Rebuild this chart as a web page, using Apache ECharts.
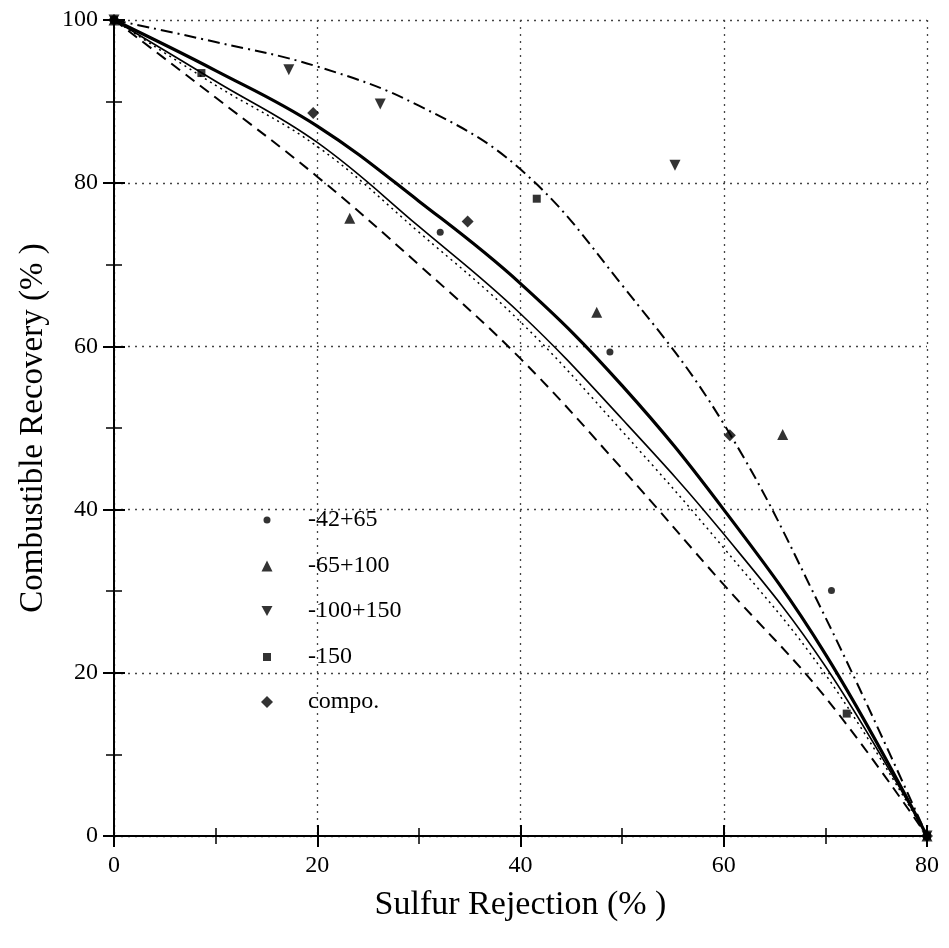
<!DOCTYPE html>
<html>
<head>
<meta charset="utf-8">
<script src="https://cdn.jsdelivr.net/npm/echarts@6/dist/echarts.min.js"></script>
<style>
  html, body { margin: 0; padding: 0; background: #fff; }
  #chart { width: 949px; height: 948px; }
</style>
</head>
<body>
<div id="chart"></div>
<script>
// curve abscissa (sulfur rejection, %)
const curveX = [0, 10, 20, 30, 40, 50, 60, 70, 80];
// fitted curves (combustible recovery, %)
const thickY   = [100, 93.8, 87, 77.8, 67.7, 55.2, 40, 22.3, 0];
const thinY    = [100, 92.5, 85, 74.7, 64, 51.1, 37, 20.8, 0];
const dottedY  = [100, 92, 84.5, 74, 63, 49.6, 35.3, 19.8, 0];
const dashedY  = [100, 90.5, 80.8, 70, 58.5, 45, 30.8, 17, 0];
const dashDotY = [100, 97.3, 94.3, 89.5, 81.7, 67.5, 50.5, 26.8, 0];

// measured points
const names = ['-42+65', '-65+100', '-100+150', '-150', 'compo.'];
const s1X = [0, 32.1, 48.8, 70.6, 80];
const s1Y = [100, 74.0, 59.3, 30.1, 0];
const s2X = [0, 23.2, 47.5, 65.8, 80];
const s2Y = [100, 75.7, 64.2, 49.2, 0];
const s3X = [0, 17.2, 26.2, 55.2, 80];
const s3Y = [100, 93.9, 89.7, 82.2, 0];
const s4X = [0, 8.6, 41.6, 72.1, 80];
const s4Y = [100, 93.5, 78.1, 15.0, 0];
const s5X = [0, 19.6, 34.8, 60.6, 80];
const s5Y = [100, 88.6, 75.3, 49.1, 0];

const xTicks = { min: 0, max: 80, interval: 20 };
const yTicks = { min: 0, max: 100, interval: 20 };

const FONT = '"Liberation Serif", "Times New Roman", serif';
const DOWN_TRIANGLE = 'path://M0,0L10,0L5,9Z';
const pair = (xs, ys) => xs.map((x, i) => [x, ys[i]]);

const chart = echarts.init(document.getElementById('chart'));

const axisCommon = {
    type: 'value',
    axisLine: { show: true, lineStyle: { color: '#000', width: 2 } },
    axisTick: { show: true, inside: true, length: 11, lineStyle: { color: '#000', width: 2 } },
    minorTick: { show: true, splitNumber: 2, length: 8, lineStyle: { color: '#000', width: 1.5 } },
    splitLine: { show: false },
    axisLabel: { show: false }
};

const gridLine = { show: true, lineStyle: { color: '#444', width: 1.3, type: [2, 5] } };
const labelStyle = { color: '#000', fontSize: 24, fontFamily: FONT };

const markers = [
    { symbol: 'circle', size: 7, x: s1X, y: s1Y },
    { symbol: 'triangle', size: 11, x: s2X, y: s2Y },
    { symbol: DOWN_TRIANGLE, size: 11, x: s3X, y: s3Y },
    { symbol: 'rect', size: 8, x: s4X, y: s4Y },
    { symbol: 'diamond', size: 12, x: s5X, y: s5Y }
];

const lines = [
    { y: thickY, width: 3.2, type: 'solid' },
    { y: thinY, width: 1.6, type: 'solid' },
    { y: dottedY, width: 1.5, type: [2, 4] },
    { y: dashedY, width: 2, type: [11, 7] },
    { y: dashDotY, width: 2, type: [12, 5, 2, 5] }
];

const legendRows = [520, 566, 611, 657, 702];

const option = {
    animation: false,
    backgroundColor: '#fff',
    grid: { left: 114, right: 22, top: 20, bottom: 112 },
    xAxis: [
        Object.assign({}, axisCommon, xTicks, {
            position: 'bottom',
            splitLine: gridLine,
            axisLabel: Object.assign({ show: true, margin: 18 }, labelStyle),
            name: 'Sulfur Rejection (% )',
            nameLocation: 'middle',
            nameGap: 52,
            nameTextStyle: { color: '#000', fontSize: 34, fontFamily: FONT }
        }),
        Object.assign({}, axisCommon, xTicks, { position: 'top' })
    ],
    yAxis: [
        Object.assign({}, axisCommon, yTicks, {
            position: 'left',
            splitLine: gridLine,
            axisLabel: Object.assign({ show: true, margin: 16 }, labelStyle),
            name: 'Combustible Recovery (% )',
            nameLocation: 'middle',
            nameGap: 64,
            nameTextStyle: { color: '#000', fontSize: 33, fontFamily: FONT }
        }),
        Object.assign({}, axisCommon, yTicks, { position: 'right' })
    ],
    legend: markers.map((m, i) => ({
        data: [{ name: names[i], icon: m.symbol }],
        orient: 'vertical',
        left: 267 - m.size / 2,
        top: legendRows[i] - 14,
        padding: 0,
        itemWidth: m.size,
        itemHeight: m.size,
        selectedMode: false,
        textStyle: {
            color: '#000', fontSize: 24, fontFamily: FONT, lineHeight: 28,
            padding: [0, 0, 0, 308 - (267 + m.size / 2) - 5]
        }
    })),
    series: lines.map((l) => ({
        type: 'line',
        data: pair(curveX, l.y),
        smooth: 0.4,
        showSymbol: false,
        silent: true,
        lineStyle: { color: '#000', width: l.width, type: l.type },
        z: 2
    })).concat(markers.map((m, i) => ({
        name: names[i],
        type: 'scatter',
        data: pair(m.x, m.y),
        symbol: m.symbol,
        symbolSize: m.size,
        itemStyle: { color: '#000' },
        z: 3
    })))
};

chart.setOption(option);
</script>
</body>
</html>
